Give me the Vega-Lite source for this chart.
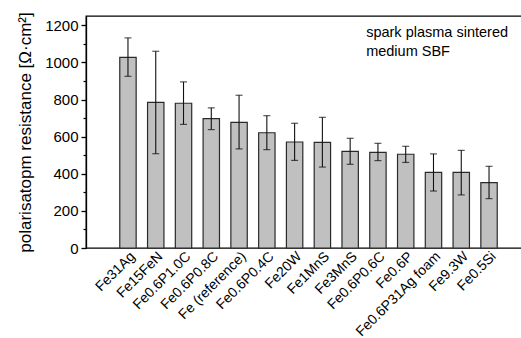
{
  "$schema": "https://vega.github.io/schema/vega-lite/v6.json",
  "autosize": {"type": "none"},
  "width": 436,
  "height": 232,
  "padding": {"left": 86, "top": 16, "right": 0, "bottom": 90},
  "background": "white",
  "config": {
    "font": "Liberation Sans",
    "view": {"stroke": "black", "strokeWidth": 1.3},
    "axis": {"labelFont": "Liberation Sans", "titleFont": "Liberation Sans", "labelColor": "black", "titleColor": "black", "domainColor": "black", "tickColor": "black", "grid": false}
  },
  "data": {"values": [
    {"sample": "Fe31Ag", "r": 1027, "lo": 925, "hi": 1132},
    {"sample": "Fe15FeN", "r": 785, "lo": 508, "hi": 1060},
    {"sample": "Fe0.6P1.0C", "r": 780, "lo": 666, "hi": 895},
    {"sample": "Fe0.6P0.8C", "r": 697, "lo": 638, "hi": 755},
    {"sample": "Fe (reference)", "r": 677, "lo": 534, "hi": 823},
    {"sample": "Fe0.6P0.4C", "r": 621, "lo": 530, "hi": 713},
    {"sample": "Fe20W", "r": 571, "lo": 472, "hi": 672},
    {"sample": "Fe1MnS", "r": 569, "lo": 436, "hi": 704},
    {"sample": "Fe3MnS", "r": 521, "lo": 451, "hi": 591},
    {"sample": "Fe0.6P0.6C", "r": 515, "lo": 471, "hi": 564},
    {"sample": "Fe0.6P", "r": 505, "lo": 461, "hi": 548},
    {"sample": "Fe0.6P31Ag foam", "r": 407, "lo": 307, "hi": 507},
    {"sample": "Fe9.3W", "r": 407, "lo": 286, "hi": 526},
    {"sample": "Fe0.5Si", "r": 352, "lo": 266, "hi": 440}
  ]},
  "encoding": {
    "x": {
      "field": "sample", "type": "nominal", "sort": null,
      "scale": {"paddingInner": 0.41, "paddingOuter": 1, "range": [6, 439]},
      "axis": {"title": null, "labelAngle": -45, "labelAlign": "right", "labelBaseline": "top", "labelPadding": 1, "ticks": false, "labelFontSize": 14, "domain": false, "labelOverlap": false}
    }
  },
  "layer": [
    {
      "mark": {"type": "bar", "fill": "#c0c0c0", "stroke": "#2a2a2a", "strokeWidth": 1.2},
      "encoding": {
        "y": {
          "field": "r", "type": "quantitative",
          "scale": {"domain": [0, 1250], "nice": false, "zero": true},
          "axis": {"title": "polarisatopm resistance [Ω·cm²]", "titleFontSize": 17, "titleFontWeight": "normal", "titlePadding": 10, "values": [0, 200, 400, 600, 800, 1000, 1200], "format": "d", "labelFontSize": 15, "labelPadding": 3, "tickSize": 5, "tickWidth": 1.3, "domainWidth": 1.3, "orient": "left"}
        }
      }
    },
    {
      "mark": {"type": "rule", "color": "#111111", "strokeWidth": 1.1},
      "encoding": {
        "y": {"field": "lo", "type": "quantitative", "axis": {"orient": "left", "values": [100, 300, 500, 700, 900, 1100], "labels": false, "domain": false, "title": null, "tickSize": 3, "tickWidth": 1.2}},
        "y2": {"field": "hi"}
      }
    },
    {
      "mark": {"type": "tick", "color": "#111111", "size": 7, "thickness": 1.2, "orient": "horizontal"},
      "encoding": {"y": {"field": "lo", "type": "quantitative", "axis": null}}
    },
    {
      "mark": {"type": "tick", "color": "#111111", "size": 7, "thickness": 1.2, "orient": "horizontal"},
      "encoding": {"y": {"field": "hi", "type": "quantitative", "axis": null}}
    },
    {
      "data": {"values": [{"note": "spark plasma sintered\nmedium SBF"}]},
      "mark": {"type": "text", "align": "left", "baseline": "top", "dx": 16, "fontSize": 14.5, "lineHeight": 19, "lineBreak": "\n", "color": "black", "font": "Liberation Sans"},
      "encoding": {
        "x": {"datum": "Fe3MnS"},
        "y": {"datum": 1195, "axis": null},
        "text": {"field": "note"}
      }
    }
  ],
  "resolve": {"axis": {"y": "independent"}}
}
